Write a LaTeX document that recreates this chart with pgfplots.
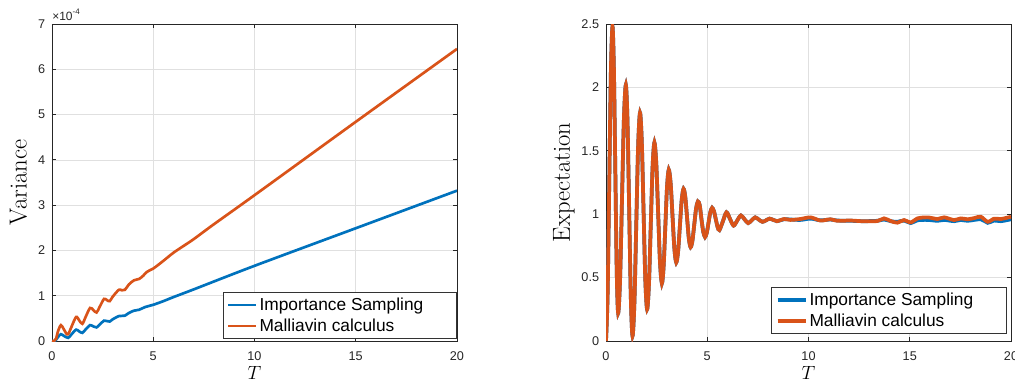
\documentclass[border=0pt]{standalone}
\usepackage{fontspec}
\usepackage{pgfplots}
\pgfplotsset{compat=1.18}
\newfontfamily\helv{Liberation Sans}
\definecolor{mblue}{rgb}{0,0.447,0.741}
\definecolor{morange}{rgb}{0.85,0.325,0.098}
\pgfplotsset{
  mstyle/.style={
    scale only axis, width=303.75pt, height=237.75pt,
    xmin=0, xmax=20, xtick={0,5,10,15,20},
    grid=major, major grid style={black!12, line width=0.5pt},
    axis line style={black!85, line width=0.6pt},
    tick style={black!85, line width=0.6pt},
    major tick length=3pt,
    tick align=inside,
    /pgf/number format/assume math mode=true,
    tick label style={font=\helv\fontsize{9.5}{11}\selectfont, text=black!85},
    xticklabel style={inner sep=0pt, anchor=north, yshift=-8pt},
    yticklabel style={inner sep=0pt, anchor=east, xshift=-5pt},
    xlabel={$T$},
    xlabel style={font=\fontsize{14.5}{16}\selectfont, at={(axis description cs:0.5,-0.123)}, anchor=base},
    legend cell align=left,
    legend image code/.code={\draw[#1] (0pt,0pt) -- (21pt,0pt);},
    legend style={draw=black!80, line width=0.5pt, fill=white,
      font=\helv\fontsize{13}{15}\selectfont,
      inner xsep=3pt, inner ysep=1.5pt,
      nodes={inner xsep=1.5pt, inner ysep=2.5pt},
      anchor=south east},
  }
}
\begin{document}
\begin{tikzpicture}
\begin{axis}[mstyle, name=ax1, at={(0pt,0pt)}, anchor=south west,
  ymin=0, ymax=7, ytick={0,1,2,3,4,5,6,7},
  ylabel={Variance},
  ylabel style={font=\fontsize{18.5}{20}\selectfont, at={(axis description cs:-0.0625,0.5)}, anchor=base},
  legend style={at={(axis description cs:1,0.006)}},
]
\addplot[mblue, line width=2pt, smooth] coordinates {
(0,0) (0.15,0.0) (0.3,0.09) (0.44,0.15) (0.6,0.11) (0.8,0.07) (0.95,0.14) (1.19,0.25) (1.35,0.21) (1.5,0.18) (1.65,0.25) (1.88,0.35) (2.05,0.32) (2.2,0.3) (2.35,0.36) (2.57,0.45) (2.72,0.44) (2.85,0.43) (3.0,0.48) (3.3,0.55) (3.45,0.555) (3.6,0.56) (3.8,0.62) (4.05,0.67) (4.3,0.69) (4.6,0.75) (5.0,0.8) (5.5,0.88) (6,0.97) (7,1.14) (10,1.66) (15,2.49) (20,3.32)
};
\addlegendentry{Importance Sampling\hspace*{20.5pt}}
\addplot[morange, line width=2pt, smooth] coordinates {
(0,0) (0.1,0.0) (0.2,0.05) (0.3,0.22) (0.44,0.35) (0.57,0.27) (0.7,0.17) (0.8,0.15) (0.95,0.3) (1.19,0.53) (1.35,0.45) (1.5,0.38) (1.65,0.52) (1.88,0.73) (2.05,0.68) (2.2,0.63) (2.35,0.75) (2.57,0.93) (2.72,0.9) (2.85,0.88) (3.0,0.98) (3.3,1.13) (3.45,1.12) (3.6,1.13) (3.8,1.25) (4.05,1.34) (4.3,1.37) (4.5,1.44) (4.7,1.53) (5.0,1.6) (5.3,1.7) (5.5,1.77) (6,1.95) (6.5,2.1) (7,2.25) (8,2.58) (10,3.22) (15,4.84) (20,6.45)
};
\addlegendentry{Malliavin calculus}
\end{axis}
\node[anchor=base west, inner sep=0pt, font=\helv\fontsize{9}{10}\selectfont, text=black!85] at ([yshift=3pt]ax1.north west) {×10\textsuperscript{-4}};
\begin{axis}[mstyle, at={(415.5pt,0pt)}, anchor=south west,
  ymin=0, ymax=2.5, ytick={0,0.5,1,1.5,2,2.5},
  ylabel={Expectation},
  ylabel style={font=\fontsize{18.5}{20}\selectfont, at={(axis description cs:-0.0889,0.5)}, anchor=base},
  legend style={at={(axis description cs:0.99,0.022)}},
]
\addplot[mblue, line width=2.8pt, smooth] coordinates {
(0,0.0) (0.08,0.363) (0.16,1.24) (0.24,2.117) (0.32,2.48) (0.39,2.149) (0.46,1.35) (0.53,0.551) (0.60,0.22) (0.695,0.484) (0.79,1.12) (0.885,1.756) (0.98,2.02) (1.0625,1.73) (1.145,1.03) (1.2275,0.33) (1.31,0.04) (1.4025,0.298) (1.495,0.92) (1.5875,1.542) (1.68,1.80) (1.7675,1.573) (1.855,1.025) (1.9425,0.477) (2.03,0.25) (2.12,0.443) (2.21,0.908) (2.30,1.372) (2.39,1.565) (2.4825,1.402) (2.575,1.01) (2.6675,0.618) (2.76,0.455) (2.845,0.586) (2.93,0.903) (3.015,1.219) (3.10,1.35) (3.1925,1.243) (3.285,0.985) (3.3775,0.727) (3.47,0.62) (3.56,0.705) (3.65,0.91) (3.74,1.115) (3.83,1.20) (3.9175,1.133) (4.005,0.97) (4.0925,0.807) (4.18,0.74) (4.27,0.793) (4.36,0.92) (4.45,1.047) (4.54,1.10) (4.6275,1.071) (4.715,0.96) (4.8025,0.861) (4.89,0.82) (4.9775,0.854) (5.065,0.935) (5.1525,1.016) (5.24,1.05) (5.33,1.024) (5.42,0.962) (5.51,0.9) (5.60,0.875) (5.775,0.945) (5.95,1.015) (6.125,0.962) (6.30,0.91) (6.48,0.95) (6.66,0.99) (6.84,0.96) (7.02,0.93) (7.195,0.952) (7.37,0.975) (7.55,0.957) (7.73,0.94) (7.905,0.952) (8.08,0.965) (8.26,0.955) (8.44,0.945)
(8.8,0.96) (9.11,0.958) (9.6,0.955) (10.1,0.965) (10.59,0.952) (11.09,0.958) (11.42,0.95) (12.08,0.948) (12.74,0.945) (13.4,0.948) (13.73,0.958) (14.06,0.945) (14.39,0.94) (14.72,0.95) (15.05,0.93) (15.38,0.952) (15.88,0.955) (16.37,0.948) (16.7,0.955) (17.19,0.945) (17.52,0.955) (17.86,0.948) (18.51,0.96) (18.85,0.932) (19.17,0.95) (19.5,0.945) (20,0.96)
};
\addlegendentry{Importance Sampling\hspace*{20.5pt}}
\addplot[morange, line width=2.8pt, smooth] coordinates {
(0,0.0) (0.08,0.363) (0.16,1.24) (0.24,2.117) (0.32,2.48) (0.39,2.149) (0.46,1.35) (0.53,0.551) (0.60,0.22) (0.695,0.484) (0.79,1.12) (0.885,1.756) (0.98,2.02) (1.0625,1.73) (1.145,1.03) (1.2275,0.33) (1.31,0.04) (1.4025,0.298) (1.495,0.92) (1.5875,1.542) (1.68,1.80) (1.7675,1.573) (1.855,1.025) (1.9425,0.477) (2.03,0.25) (2.12,0.443) (2.21,0.908) (2.30,1.372) (2.39,1.565) (2.4825,1.402) (2.575,1.01) (2.6675,0.618) (2.76,0.455) (2.845,0.586) (2.93,0.903) (3.015,1.219) (3.10,1.35) (3.1925,1.243) (3.285,0.985) (3.3775,0.727) (3.47,0.62) (3.56,0.705) (3.65,0.91) (3.74,1.115) (3.83,1.20) (3.9175,1.133) (4.005,0.97) (4.0925,0.807) (4.18,0.74) (4.27,0.793) (4.36,0.92) (4.45,1.047) (4.54,1.10) (4.6275,1.071) (4.715,0.96) (4.8025,0.861) (4.89,0.82) (4.9775,0.854) (5.065,0.935) (5.1525,1.016) (5.24,1.05) (5.33,1.024) (5.42,0.962) (5.51,0.9) (5.60,0.875) (5.775,0.945) (5.95,1.015) (6.125,0.962) (6.30,0.91) (6.48,0.95) (6.66,0.99) (6.84,0.96) (7.02,0.93) (7.195,0.952) (7.37,0.975) (7.55,0.957) (7.73,0.94) (7.905,0.952) (8.08,0.965) (8.26,0.955) (8.44,0.945)
(8.8,0.962) (9.11,0.955) (9.6,0.962) (10.1,0.975) (10.59,0.95) (11.09,0.96) (11.42,0.948) (12.08,0.95) (12.74,0.944) (13.4,0.946) (13.73,0.967) (14.06,0.946) (14.39,0.933) (14.72,0.954) (15.05,0.935) (15.38,0.967) (15.88,0.975) (16.37,0.962) (16.7,0.975) (17.19,0.954) (17.52,0.967) (17.86,0.96) (18.2,0.97) (18.51,0.98) (18.85,0.94) (19.17,0.965) (19.5,0.962) (20,0.98)
};
\addlegendentry{Malliavin calculus}
\end{axis}
\pgfresetboundingbox
\path[use as bounding box] (-39pt,-33.75pt) rectangle (722.25pt,255.75pt);
\end{tikzpicture}
\end{document}
